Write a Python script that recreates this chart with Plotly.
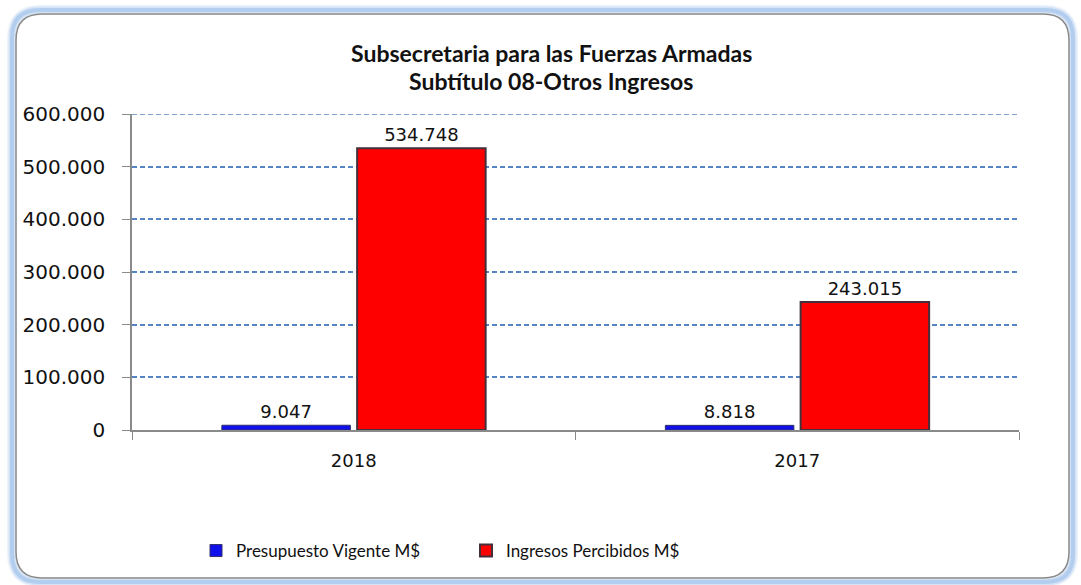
import plotly.graph_objects as go

years = ["2018", "2017"]
presupuesto = [9047, 8818]
ingresos = [534748, 243015]
y_ticks = [0, 100000, 200000, 300000, 400000, 500000, 600000]
title_lines = ["Subsecretaria para las Fuerzas Armadas", "Subtítulo 08-Otros Ingresos"]

W, H = 1081, 585
ML, MR, MT, MB = 132, 62, 114, 155
PW, PH = W - ML - MR, H - MT - MB


def px_x(v):
    return (v - ML) / PW


def px_y(v):
    return (H - MB - v) / PH


def rounded_rect(x0, y0, x1, y1, r):
    # path in paper coords built from pixel corners
    pts = [
        f"M {px_x(x0 + r)},{px_y(y0)}",
        f"L {px_x(x1 - r)},{px_y(y0)}",
        f"Q {px_x(x1)},{px_y(y0)} {px_x(x1)},{px_y(y0 + r)}",
        f"L {px_x(x1)},{px_y(y1 - r)}",
        f"Q {px_x(x1)},{px_y(y1)} {px_x(x1 - r)},{px_y(y1)}",
        f"L {px_x(x0 + r)},{px_y(y1)}",
        f"Q {px_x(x0)},{px_y(y1)} {px_x(x0)},{px_y(y1 - r)}",
        f"L {px_x(x0)},{px_y(y0 + r)}",
        f"Q {px_x(x0)},{px_y(y0)} {px_x(x0 + r)},{px_y(y0)} Z",
    ]
    return " ".join(pts)


fig = go.Figure()
fig.add_trace(go.Bar(
    x=years, y=presupuesto, name="Presupuesto Vigente M$",
    marker=dict(color="#1010EA", line=dict(color="#30306a", width=1)),
    text=presupuesto, texttemplate="%{y:,}", textposition="outside",
    textfont=dict(family="DejaVu Sans", size=18, color="#111111"),
    cliponaxis=False,
))
fig.add_trace(go.Bar(
    x=years, y=ingresos, name="Ingresos Percibidos M$",
    marker=dict(color="#FF0000", line=dict(color="#44303a", width=2)),
    text=ingresos, texttemplate="%{y:,}", textposition="outside",
    textfont=dict(family="DejaVu Sans", size=18, color="#111111"),
    cliponaxis=False,
))

# frame with soft blue glow
shapes = []
for w, op in [(10, 0.15), (7, 0.25), (4, 0.45)]:
    shapes.append(dict(type="path", xref="paper", yref="paper",
                       path=rounded_rect(12, 10, 1073, 582, 28),
                       line=dict(color="#8DB4E8", width=w), opacity=op,
                       layer="below"))
shapes.append(dict(type="path", xref="paper", yref="paper",
                   path=rounded_rect(16, 14, 1069, 578, 26),
                   line=dict(color="#8a8a8a", width=1.5), layer="below"))
# top gridline (plotly skips it at the range edge)
shapes.append(dict(type="line", xref="paper", yref="y", x0=0, x1=1,
                   y0=y_ticks[-1], y1=y_ticks[-1],
                   line=dict(color="#5585C4", width=1.5, dash="5px,3px"),
                   layer="below"))

annotations = [
    dict(text=title_lines[0], xref="paper", yref="paper", x=px_x(551), y=px_y(53),
         xanchor="center", yanchor="middle", showarrow=False,
         font=dict(family="Lato", size=23, color="#111111", weight="bold")),
    dict(text=title_lines[1], xref="paper", yref="paper", x=px_x(551), y=px_y(81),
         xanchor="center", yanchor="middle", showarrow=False,
         font=dict(family="Lato", size=23, color="#111111", weight="bold")),
]

fig.update_layout(
    width=W, height=H,
    margin=dict(l=ML, r=MR, t=MT, b=MB),
    paper_bgcolor="white", plot_bgcolor="white",
    separators=",.",
    barmode="group", bargap=0.39, bargroupgap=0.05,
    shapes=shapes, annotations=annotations,
    showlegend=True,
    legend=dict(orientation="h", x=px_x(196), xanchor="left", y=px_y(551), yanchor="middle",
                font=dict(family="Lato", size=17, color="#111111"),
                entrywidth=225, entrywidthmode="pixels",
                itemwidth=30, bgcolor="rgba(0,0,0,0)"),
    font=dict(family="DejaVu Sans", color="#111111"),
)
fig.update_xaxes(
    showline=True, linecolor="#8a8a8a", linewidth=1.5,
    ticks="outside", tickson="boundaries", ticklen=8, tickcolor="#8a8a8a",
    tickfont=dict(family="DejaVu Sans", size=18, color="#111111"),
    ticklabelstandoff=14,
    showgrid=False,
)
fig.update_yaxes(
    range=[0, 600000], tickvals=y_ticks, tickformat=",d",
    showline=True, linecolor="#8a8a8a", linewidth=1.5,
    ticks="outside", ticklen=8, tickcolor="#8a8a8a",
    tickfont=dict(family="DejaVu Sans", size=20, color="#111111"),
    ticklabelstandoff=13,
    showgrid=True, gridcolor="#5585C4", griddash="5px,3px", gridwidth=1.5,
    zeroline=False,
)

fig.write_html("out.html", config={"displayModeBar": False},
               post_script="document.body.style.margin='0';")
